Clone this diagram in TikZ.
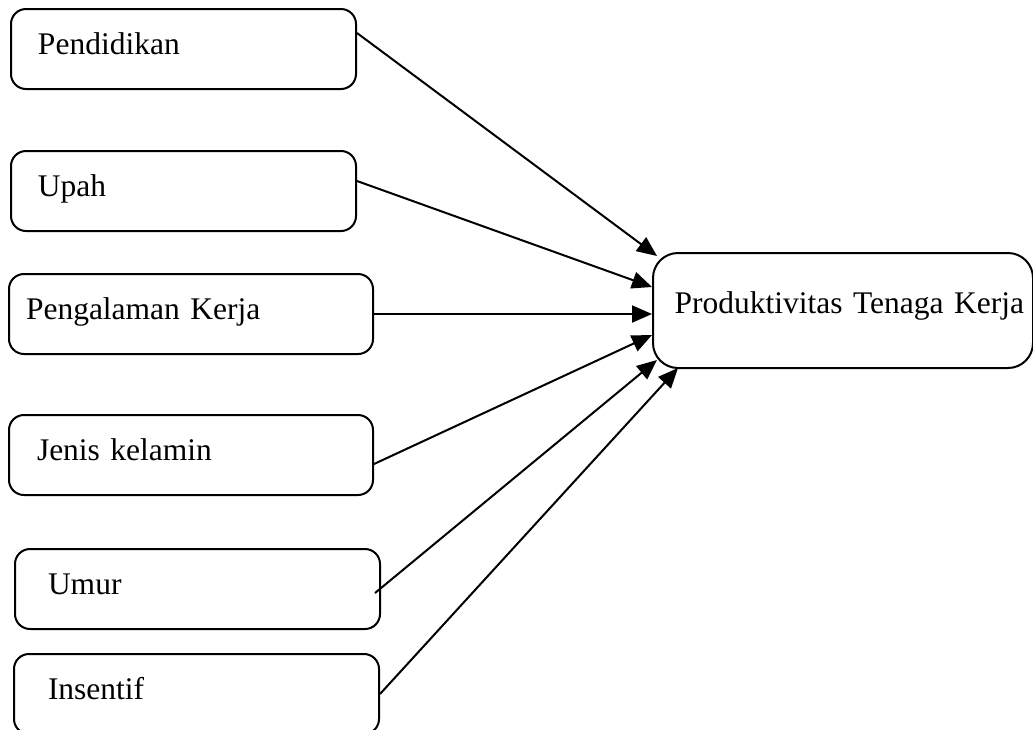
\documentclass[tikz,border=0pt]{standalone}
\usepackage{fontspec}
\setmainfont{Liberation Serif}
\usetikzlibrary{arrows.meta, positioning, calc}
\tikzset{
  factor/.style={draw=black,line width=1pt,rounded corners=7.5pt,anchor=north west,align=left,
    minimum height=40pt,text height=15pt,text depth=9.5pt,font=\fontsize{15.75pt}{19pt}\selectfont},
  outcome/.style={draw=black,line width=1pt,rounded corners=12.5pt,anchor=north west,align=right,
    text width=181pt,inner xsep=4.5pt,minimum height=57.5pt,text height=12pt,text depth=9.5pt,
    font=\fontsize{15.75pt}{19pt}\selectfont},
  influence/.style={line width=1pt,black,-{Triangle[length=10pt,width=8.5pt]}},
}

\begin{document}
\begin{tikzpicture}[x=0.5pt,y=-0.5pt]
	    \useasboundingbox (0,0) rectangle (1033,729);
	    % factors
	    \node[factor,text width=145.5pt,inner xsep=13.5pt] (pend) at (10,8) {Pendidikan};
	    \node[factor,text width=145.5pt,inner xsep=13.5pt] (upah) at (10,150) {Upah};
	    \node[factor,text width=165pt,inner xsep=8.5pt] (peng) at (8,273) {Pengalaman Kerja};
	    \node[factor,text width=154pt,inner xsep=14pt] (jenis) at (8,414) {Jenis kelamin};
	    \node[factor,text width=149.5pt,inner xsep=16.5pt] (umur) at (14,548) {Umur};
	    \node[factor,text width=148.5pt,inner xsep=17pt] (ins) at (13,653) {Insentif};
	    % outcome
	    \node[outcome] (prod) at (652,252) {Produktivitas Tenaga Kerja};
	    \draw[influence] ([yshift=8pt]pend.east) -- ([xshift=2.5pt,yshift=-2pt]prod.north west);
	    \draw[influence] ([yshift=5pt]upah.east) -- ([yshift=11.75pt]prod.west);
	    \draw[influence] (peng.east) -- (peng.east -| prod.west);
	    \draw[influence] ([yshift=-4.5pt]jenis.east) -- ([yshift=-12.25pt]prod.west);
	    \draw[influence] ([xshift=-3pt,yshift=-2pt]umur.east) -- ([xshift=2.5pt,yshift=4.5pt]prod.south west);
	    \draw[influence] (ins.east) -- ([xshift=13pt,yshift=0.5pt]prod.south west);
	\end{tikzpicture}
\end{document}
